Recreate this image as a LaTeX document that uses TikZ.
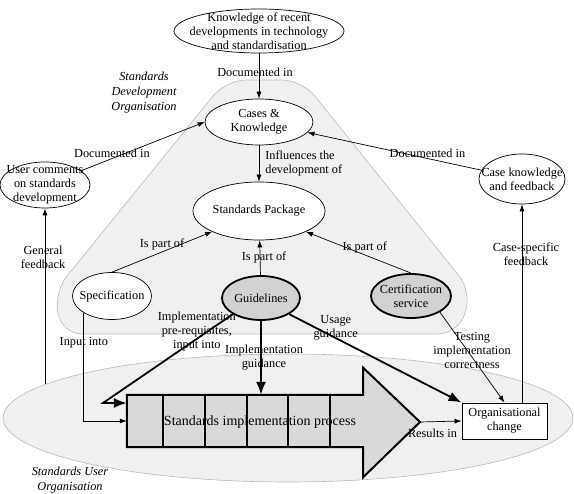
\documentclass[tikz,border=0pt]{standalone}
\usepackage{fontspec}
\setmainfont{Liberation Serif}
\usetikzlibrary{arrows.meta,shapes.geometric,calc}

\begin{document}
\begin{tikzpicture}[x=1pt, y=-1pt,
    font=\fontsize{12.3}{14}\selectfont,
    bubble/.style={
        ellipse, draw, line width=0.7pt, fill=white, align=center,
        inner xsep=-12pt, inner ysep=-8pt
    },
    keybubble/.style={bubble, fill=gray!35, line width=1.8pt},
    changebox/.style={
        rectangle, draw, line width=0.9pt, fill=white, align=center,
        minimum width=85pt, minimum height=36pt, inner sep=1pt
    },
    arr/.style={-{Latex[length=7pt,width=5pt]}, line width=0.7pt},
    fatarr/.style={-{Latex[length=13pt,width=10pt]}, line width=1.8pt},
    wlabel/.style={align=center, inner sep=1pt},
    orglabel/.style={font=\fontsize{12.3}{15}\selectfont\itshape, align=center},
    region/.style={draw=gray!55, fill=gray!12, line width=0.6pt}
]
    \useasboundingbox (0,0) rectangle (574,494);

    % Organisation regions
    \node[region, ellipse, minimum width=570pt, minimum height=128pt] (userorg) at (288,418) {};
    \draw[region, rounded corners=20pt]
        (62,334) -- (458,334) -- (472,292) -- (302,80) -- (226,80) -- (54,292) -- cycle;
    \node[orglabel] (sdolabel) at (144,93) {Standards\\Development\\Organisation};
    \node[orglabel] (suolabel) at (70,480) {Standards User\\Organisation};

    % Implementation process arrow
    \node[minimum width=236pt, minimum height=52pt, inner sep=0pt] (proc) at (245,421) {};
    \coordinate (tip) at (420,422);
    \draw[line width=2pt, fill=gray!30, line join=miter]
        (proc.north west) -- (proc.north east) -- ++(0,-27) -- (tip)
        -- ($(proc.south east)+(0,30)$) -- (proc.south east) -- (proc.south west) -- cycle;
    \foreach \cx in {163,205,247,288,330}
        \draw[line width=2pt] (\cx,395) -- (\cx,447);
    \node[font=\fontsize{14}{16}\selectfont] (proctext) at (260,422) {Standards implementation process};

    % Nodes
    \node[bubble, minimum width=170pt, minimum height=44pt] (know) at (259,31)
        {Knowledge of recent\\developments in technology\\and standardisation};
    \node[bubble, minimum width=108pt, minimum height=46pt] (cases) at (259,122) {Cases \&\\Knowledge};
    \node[bubble, minimum width=132pt, minimum height=58pt] (pkg) at (259,211) {Standards Package};
    \node[bubble, minimum width=90pt, minimum height=46pt] (user) at (45,185)
        {User comments\\on standards\\development};
    \node[bubble, minimum width=86pt, minimum height=50pt] (casefb) at (522,179) {Case knowledge\\and feedback};
    \node[bubble, minimum width=79pt, minimum height=47pt] (spec) at (112,296) {Specification};
    \node[keybubble, minimum width=78pt, minimum height=44pt] (guide) at (261,298) {Guidelines};
    \node[keybubble, minimum width=80pt, minimum height=44pt] (cert) at (411,296) {Certification\\service};
    \node[changebox] (org) at (504.5,421) {Organisational\\change};
    \coordinate (kink) at (103,403);

    % Knowledge flows
    \draw[arr] (know) -- node[wlabel, pos=0.41, xshift=-4pt] (d1) {Documented in} (cases);
    \draw[arr] (user) -- node[wlabel, pos=0.25, above=0pt] (d2) {Documented in} (cases.west);
    \draw[arr] (casefb) -- node[wlabel, pos=0.31, above=0pt] (d3) {Documented in} (cases);
    \draw[arr] (cases) -- node[wlabel, right=5pt, align=left] (infl) {Influences the\\development of} (pkg);

    % Package parts
    \draw[arr] (spec.north) -- node[wlabel, pos=0.5, above=0pt] (p1) {Is part of} (pkg.south west);
    \draw[arr] (guide) -- node[wlabel, pos=0.5, xshift=4pt] (p2) {Is part of} (pkg);
    \draw[arr] (cert.north) -- node[wlabel, pos=0.44, above=0pt] (p3) {Is part of} (pkg.south east);

    % Into the implementation
    \draw[arr] (spec.south west) |- node[wlabel, pos=0.14] (in1) {Input into} (proc.west);
    \draw[fatarr] (guide.south west) -- node[wlabel, pos=0.2, xshift=-10pt] (in2)
        {Implementation\\pre-requisites,\\input into} (kink) -- (kink -| proc.west);
    \draw[fatarr] (guide.south) -- node[wlabel, pos=0.5, xshift=3pt] (in3)
        {Implementation\\guidance} (guide.south |- proc.north);
    \draw[fatarr] (guide.south east) -- node[wlabel, pos=0.27, above=-4pt] (use)
        {Usage\\guidance} (org.north west);
    \draw[arr] (cert.south east) -- node[wlabel, pos=0.42, xshift=5pt] (test)
        {Testing\\implementation\\correctness} (org.north);
    \draw[arr] (tip) -- node[wlabel, pos=0.3, below=6pt] (res) {Results in} (org.west);

    % Feedback
    \draw[arr] (casefb.south |- org.north) -- node[wlabel, pos=0.75, xshift=4pt] (fb1)
        {Case-specific\\feedback} (casefb.south);
    \draw[arr] (user.south |- userorg.172) -- node[wlabel, pos=0.72, xshift=-2pt] (fb2)
        {General\\feedback} (user.south);
\end{tikzpicture}
\end{document}
